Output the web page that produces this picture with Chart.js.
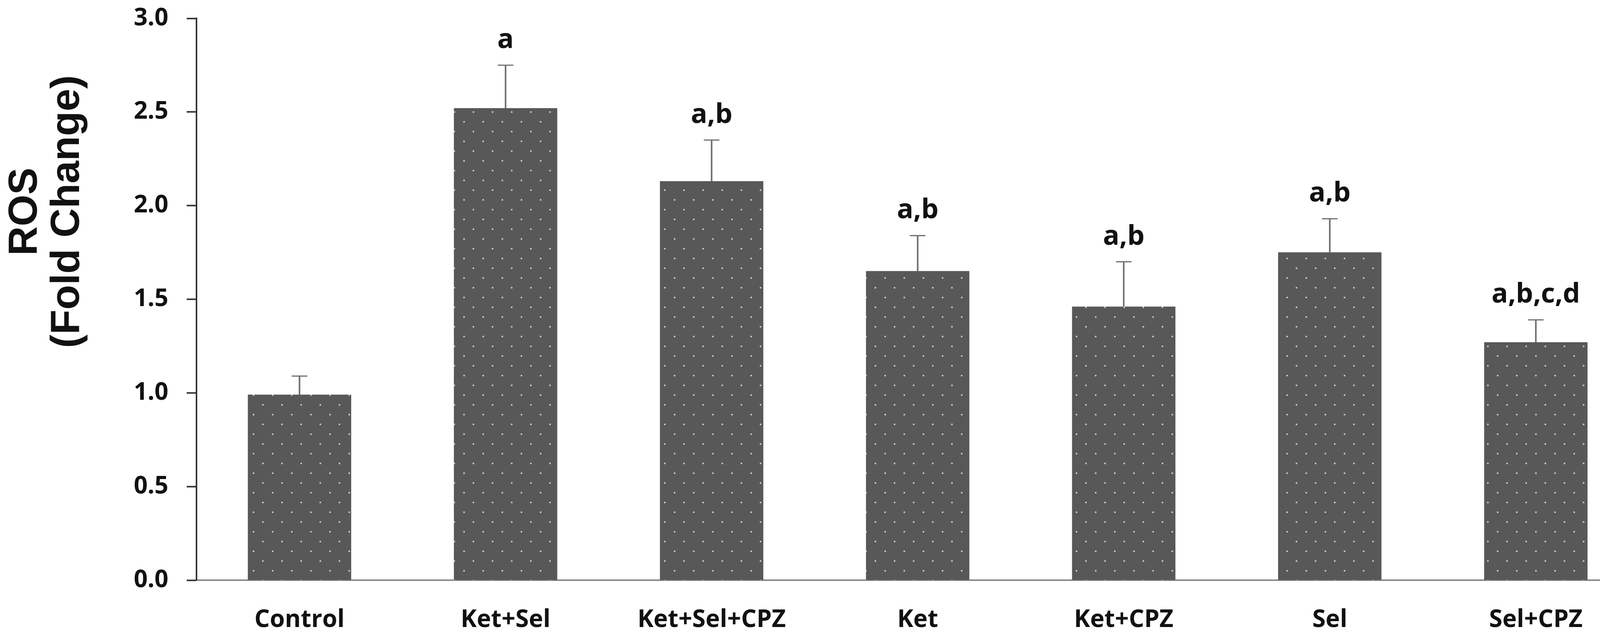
<!DOCTYPE html>
<html>
<head>
<meta charset="utf-8">
<title>ROS fold change</title>
<script src="https://cdn.jsdelivr.net/npm/chart.js@4.4.1/dist/chart.umd.min.js"></script>
<style>
  html, body { margin: 0; padding: 0; background: #fff; overflow: hidden; }
  canvas { display: block; }
</style>
</head>
<body>
<canvas id="rosChart" width="4168" height="1629"></canvas>
<script>
// data
const categories = ['Control', 'Ket+Sel', 'Ket+Sel+CPZ', 'Ket', 'Ket+CPZ', 'Sel', 'Sel+CPZ'];
const rosMeans = [0.99, 2.52, 2.13, 1.65, 1.46, 1.75, 1.27];
const rosErrors = [0.10, 0.23, 0.22, 0.19, 0.24, 0.18, 0.12];
const sigLabels = ['', 'a', 'a,b', 'a,b', 'a,b', 'a,b', 'a,b,c,d'];
const yTicks = [0, 0.5, 1.0, 1.5, 2.0, 2.5, 3.0];

// dotted fill like the original bars
function makeDots() {
    const tile = document.createElement('canvas');
    tile.width = 49;
    tile.height = 50;
    const t = tile.getContext('2d');
    t.fillStyle = '#585858';
    t.fillRect(0, 0, 49, 50);
    t.fillStyle = '#c4c4c4';
    t.fillRect(10, 10, 4, 4);
    t.fillRect(34, 35, 4, 4);
    return t.createPattern(tile, 'repeat');
}

const tickFont = { family: '"Open Sans", "DejaVu Sans", sans-serif', size: 62, weight: 'bold' };

// error bars (upward only) and letters above them
const errorBars = {
    id: 'errorBars',
    afterDatasetsDraw(chart) {
        const ctx = chart.ctx;
        const y = chart.scales.y;
        const meta = chart.getDatasetMeta(0);
        ctx.save();
        meta.data.forEach((bar, i) => {
            const top = y.getPixelForValue(rosMeans[i] + rosErrors[i]);
            ctx.strokeStyle = '#6e6e6e';
            ctx.lineWidth = 4;
            ctx.beginPath();
            ctx.moveTo(bar.x, bar.y);
            ctx.lineTo(bar.x, top);
            ctx.stroke();
            ctx.lineWidth = 3;
            ctx.beginPath();
            ctx.moveTo(bar.x - 20, top);
            ctx.lineTo(bar.x + 20, top);
            ctx.stroke();
            if (sigLabels[i]) {
                ctx.fillStyle = '#111';
                ctx.font = 'bold 70px "Open Sans", "DejaVu Sans", sans-serif';
                ctx.textAlign = 'center';
                ctx.textBaseline = 'alphabetic';
                ctx.fillText(sigLabels[i], bar.x, top - 44);
            }
        });
        ctx.restore();
    },
    afterDraw(chart) {
        // two line y axis title
        const ctx = chart.ctx;
        ctx.save();
        ctx.fillStyle = '#111';
        ctx.font = 'bold 104px "Liberation Sans", Arial, sans-serif';
        ctx.textAlign = 'center';
        ctx.textBaseline = 'alphabetic';
        [['ROS', 94], ['(Fold Change)', 202]].forEach(([txt, bx]) => {
            ctx.save();
            ctx.translate(bx, 542);
            ctx.rotate(-Math.PI / 2);
            ctx.fillText(txt, 0, 0);
            ctx.restore();
        });
        ctx.restore();
    }
};

const ctx = document.getElementById('rosChart').getContext('2d');
const rosChart = new Chart(ctx, {
    type: 'bar',
    data: {
        datasets: [{
            label: 'ROS',
            data: rosMeans.map((v, i) => ({ x: i, y: v })),
            backgroundColor: makeDots(),
            borderWidth: 0,
            barThickness: 264
        }]
    },
    options: {
        responsive: false,
        animation: false,
        devicePixelRatio: 1,
        layout: { padding: { top: 47, right: 20, left: 0, bottom: 0 } },
        plugins: {
            legend: { display: false },
            tooltip: { enabled: false }
        },
        scales: {
            x: {
                type: 'linear',
                offset: false,
                // the original axis stops a little short of the last category slot
                min: -0.5,
                max: 6.41,
                afterFit(scale) { scale.height = 143; },
                afterBuildTicks(scale) { scale.ticks = categories.map((c, i) => ({ value: i })); },
                grid: { display: false, drawTicks: false, offset: false },
                border: { display: true, color: '#8a8a8a', width: 4 },
                ticks: {
                    color: '#111',
                    font: tickFont,
                    padding: 65,
                    maxRotation: 0,
                    autoSkip: false,
                    callback: v => categories[v]
                }
            },
            y: {
                min: 0,
                max: 3,
                afterFit(scale) {
                    scale.width = 503;
                    // keep the label padding from pushing the plot down
                    scale.paddingTop = 0;
                    scale.paddingBottom = 0;
                },
                afterBuildTicks(scale) { scale.ticks = yTicks.map(v => ({ value: v })); },
                grid: { drawOnChartArea: false, drawTicks: true, tickLength: 25, tickColor: '#333', tickWidth: 4 },
                border: { display: true, color: '#333', width: 4 },
                ticks: {
                    color: '#111',
                    font: tickFont,
                    padding: 47,
                    callback: v => Number(v).toFixed(1)
                }
            }
        }
    },
    plugins: [errorBars]
});
</script>
</body>
</html>
